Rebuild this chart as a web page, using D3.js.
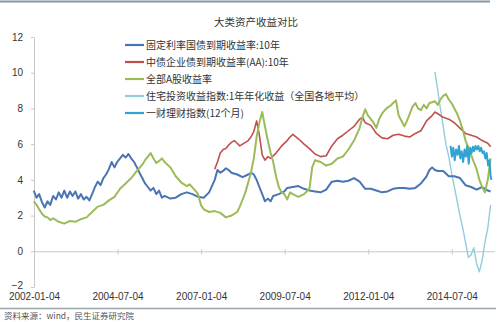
<!DOCTYPE html>
<html>
<head>
<meta charset="utf-8">
<script src="https://cdn.jsdelivr.net/npm/d3@7"></script>
<style>
  body { margin: 0; background: #fff; }
  text { font-family: "Liberation Sans", "Noto Sans CJK SC", sans-serif; }
  .cjk { font-family: "Noto Sans CJK SC", sans-serif; }
</style>
</head>
<body>
<div id="chart"></div>
<script>
// series data
const govBond = [
  ["2002-01", 3.4], ["2002-02", 3.0], ["2002-03", 3.2], ["2002-04", 2.75], ["2002-05", 2.45],
  ["2002-06", 2.8], ["2002-07", 2.6], ["2002-08", 3.1], ["2002-09", 2.9], ["2002-10", 3.3],
  ["2002-11", 3.0], ["2002-12", 3.4], ["2003-01", 3.0], ["2003-02", 3.35], ["2003-03", 3.1],
  ["2003-04", 3.35], ["2003-05", 2.95], ["2003-06", 3.2], ["2003-07", 2.9], ["2003-08", 3.05],
  ["2003-09", 2.85], ["2003-10", 3.2], ["2003-11", 3.6], ["2003-12", 3.9], ["2004-01", 3.7],
  ["2004-02", 4.1], ["2004-03", 4.3], ["2004-04", 4.6], ["2004-05", 5.0], ["2004-06", 4.7],
  ["2004-07", 5.0], ["2004-08", 5.2], ["2004-09", 5.4], ["2004-10", 5.25], ["2004-11", 5.45],
  ["2004-12", 5.2], ["2005-01", 5.0], ["2005-02", 4.7], ["2005-03", 4.4], ["2005-04", 4.1],
  ["2005-05", 3.8], ["2005-06", 3.6], ["2005-07", 3.4], ["2005-08", 3.55], ["2005-09", 3.2],
  ["2005-10", 3.4], ["2005-11", 3.0], ["2005-12", 3.1], ["2006-02", 2.95], ["2006-04", 3.0],
  ["2006-06", 3.2], ["2006-08", 3.3], ["2006-10", 3.2], ["2006-12", 3.05], ["2007-02", 3.0],
  ["2007-04", 3.3], ["2007-06", 4.0], ["2007-07", 4.55], ["2007-08", 4.4], ["2007-09", 4.5],
  ["2007-10", 4.65], ["2007-11", 4.55], ["2007-12", 4.4], ["2008-02", 4.3], ["2008-04", 4.15],
  ["2008-06", 4.3], ["2008-07", 4.4], ["2008-08", 4.3], ["2008-09", 4.0], ["2008-10", 3.6],
  ["2008-11", 3.2], ["2008-12", 2.8], ["2009-01", 2.95], ["2009-02", 2.8], ["2009-03", 3.1],
  ["2009-05", 3.2], ["2009-07", 3.35], ["2009-08", 3.55], ["2009-10", 3.6], ["2009-12", 3.65],
  ["2010-02", 3.5], ["2010-04", 3.4], ["2010-06", 3.35], ["2010-08", 3.3], ["2010-10", 3.45],
  ["2010-12", 3.9], ["2011-02", 3.95], ["2011-04", 3.9], ["2011-06", 3.95], ["2011-08", 4.1],
  ["2011-10", 3.9], ["2011-12", 3.5], ["2012-02", 3.5], ["2012-04", 3.4], ["2012-06", 3.3],
  ["2012-08", 3.35], ["2012-10", 3.5], ["2012-12", 3.55], ["2013-02", 3.55], ["2013-04", 3.5],
  ["2013-06", 3.55], ["2013-08", 3.8], ["2013-09", 4.0], ["2013-10", 4.2], ["2013-11", 4.55],
  ["2013-12", 4.7], ["2014-01", 4.55], ["2014-02", 4.5], ["2014-04", 4.5], ["2014-06", 4.2],
  ["2014-08", 4.2], ["2014-10", 4.1], ["2014-12", 3.7], ["2015-02", 3.6], ["2015-04", 3.45],
  ["2015-06", 3.6], ["2015-08", 3.4], ["2015-09", 3.35]
];

const corpBond = [
  ["2007-06", 4.6], ["2007-07", 5.0], ["2007-08", 5.5], ["2007-09", 5.7], ["2007-10", 5.75],
  ["2007-11", 5.95], ["2007-12", 6.1], ["2008-01", 6.2], ["2008-02", 6.05], ["2008-03", 5.9],
  ["2008-04", 6.0], ["2008-05", 6.1], ["2008-06", 6.2], ["2008-07", 6.4], ["2008-08", 6.7],
  ["2008-09", 7.3], ["2008-10", 6.5], ["2008-11", 5.4], ["2008-12", 5.1], ["2009-01", 5.3],
  ["2009-02", 5.2], ["2009-04", 5.5], ["2009-06", 5.9], ["2009-08", 6.2], ["2009-09", 6.4],
  ["2009-10", 6.55], ["2009-12", 6.3], ["2010-02", 6.0], ["2010-04", 5.75], ["2010-06", 5.45],
  ["2010-08", 5.3], ["2010-10", 5.35], ["2010-12", 5.9], ["2011-02", 6.3], ["2011-04", 6.5],
  ["2011-06", 6.75], ["2011-08", 7.0], ["2011-10", 7.4], ["2011-11", 7.5], ["2011-12", 7.2],
  ["2012-02", 7.05], ["2012-04", 6.6], ["2012-06", 6.35], ["2012-08", 6.3], ["2012-10", 6.5],
  ["2012-12", 6.55], ["2013-02", 6.45], ["2013-04", 6.4], ["2013-06", 6.6], ["2013-08", 6.75],
  ["2013-10", 7.3], ["2013-12", 7.6], ["2014-01", 7.8], ["2014-02", 7.7], ["2014-04", 7.5],
  ["2014-06", 7.4], ["2014-08", 7.2], ["2014-10", 6.9], ["2014-12", 6.6], ["2015-02", 6.5],
  ["2015-04", 6.4], ["2015-06", 6.2], ["2015-08", 6.05], ["2015-09", 5.85]
];

const aShare = [
  ["2002-01", 2.8], ["2002-02", 2.6], ["2002-03", 2.35], ["2002-04", 2.1], ["2002-05", 1.95],
  ["2002-06", 1.9], ["2002-07", 1.75], ["2002-08", 1.85], ["2002-10", 1.65], ["2002-12", 1.55],
  ["2003-02", 1.7], ["2003-04", 1.65], ["2003-06", 1.8], ["2003-08", 1.9], ["2003-10", 2.2],
  ["2003-12", 2.5], ["2004-02", 2.6], ["2004-04", 2.85], ["2004-06", 3.05], ["2004-08", 3.5],
  ["2004-10", 3.8], ["2004-12", 4.1], ["2005-02", 4.5], ["2005-04", 4.85], ["2005-05", 5.1],
  ["2005-06", 5.3], ["2005-07", 5.5], ["2005-08", 5.2], ["2005-09", 4.95], ["2005-10", 5.05],
  ["2005-11", 5.2], ["2005-12", 5.0], ["2006-02", 4.7], ["2006-04", 4.2], ["2006-06", 3.85],
  ["2006-08", 3.65], ["2006-09", 3.75], ["2006-11", 3.4], ["2006-12", 3.2], ["2007-01", 2.6],
  ["2007-02", 2.35], ["2007-04", 2.2], ["2007-06", 2.25], ["2007-08", 2.15], ["2007-10", 1.9],
  ["2007-12", 2.0], ["2008-02", 2.2], ["2008-03", 2.5], ["2008-04", 2.9], ["2008-05", 3.3],
  ["2008-06", 3.85], ["2008-07", 4.4], ["2008-08", 5.2], ["2008-09", 6.4], ["2008-10", 7.2],
  ["2008-11", 7.8], ["2008-12", 7.0], ["2009-01", 6.2], ["2009-02", 5.5], ["2009-03", 5.0],
  ["2009-04", 4.2], ["2009-05", 3.6], ["2009-06", 3.3], ["2009-07", 3.2], ["2009-08", 2.9],
  ["2009-09", 3.3], ["2009-10", 3.2], ["2009-12", 3.05], ["2010-02", 3.2], ["2010-04", 3.5],
  ["2010-05", 4.7], ["2010-06", 5.1], ["2010-08", 5.0], ["2010-10", 4.8], ["2010-12", 4.9],
  ["2011-02", 5.2], ["2011-04", 5.3], ["2011-06", 5.7], ["2011-08", 6.2], ["2011-10", 6.9],
  ["2011-11", 7.5], ["2011-12", 7.95], ["2012-01", 7.6], ["2012-02", 7.4], ["2012-03", 7.2],
  ["2012-04", 6.9], ["2012-05", 7.4], ["2012-06", 7.7], ["2012-07", 7.9], ["2012-08", 8.05],
  ["2012-09", 8.15], ["2012-10", 8.3], ["2012-11", 8.45], ["2012-12", 7.6], ["2013-01", 7.3],
  ["2013-02", 7.0], ["2013-03", 7.3], ["2013-04", 7.7], ["2013-05", 8.1], ["2013-06", 8.3],
  ["2013-07", 8.0], ["2013-08", 7.9], ["2013-09", 8.2], ["2013-10", 8.0], ["2013-11", 8.3],
  ["2013-12", 8.35], ["2014-01", 8.4], ["2014-02", 8.2], ["2014-03", 8.5], ["2014-04", 8.7],
  ["2014-05", 8.8], ["2014-06", 8.5], ["2014-07", 8.3], ["2014-08", 8.0], ["2014-09", 7.7],
  ["2014-10", 7.3], ["2014-11", 6.8], ["2014-12", 6.2], ["2015-01", 5.8], ["2015-02", 5.4],
  ["2015-03", 5.0], ["2015-04", 4.6], ["2015-05", 4.0], ["2015-06", 3.6], ["2015-07", 3.3],
  ["2015-08", 4.0], ["2015-09", 5.2]
];

const housing = [
  ["2014-01", 10.05], ["2014-02", 9.0], ["2014-03", 8.0], ["2014-04", 7.0], ["2014-05", 6.0],
  ["2014-06", 5.3], ["2014-07", 4.4], ["2014-08", 3.6], ["2014-09", 2.8], ["2014-10", 2.0],
  ["2014-11", 1.3], ["2014-12", 0.5], ["2015-01", -0.35], ["2015-02", -0.2], ["2015-03", 0.2],
  ["2015-04", -0.7], ["2015-05", -1.15], ["2015-06", -0.5], ["2015-07", 0.5], ["2015-08", 1.3],
  ["2015-09", 2.6]
];

const wealth = [
  ["2014-06-20", 5.9], ["2014-07-05", 5.3], ["2014-07-20", 5.8], ["2014-08-05", 5.1],
  ["2014-08-20", 5.7], ["2014-09-05", 5.4], ["2014-09-20", 5.9], ["2014-10-05", 5.2],
  ["2014-10-20", 5.6], ["2014-11-05", 5.0], ["2014-11-20", 5.7], ["2014-12-05", 5.3],
  ["2014-12-20", 5.9], ["2015-01-05", 4.9], ["2015-01-20", 5.8], ["2015-02-05", 5.5],
  ["2015-02-20", 5.85], ["2015-03-05", 5.6], ["2015-03-20", 5.9], ["2015-04-05", 5.7],
  ["2015-04-20", 5.9], ["2015-05-05", 5.6], ["2015-05-20", 5.8], ["2015-06-05", 5.5],
  ["2015-06-20", 5.6], ["2015-07-05", 5.2], ["2015-07-20", 5.5], ["2015-08-05", 4.8],
  ["2015-08-20", 5.1], ["2015-09-01", 4.2], ["2015-09-10", 4.0]
];

const seriesNames = [
  "固定利率国债到期收益率:10年",
  "中债企业债到期收益率(AA):10年",
  "全部A股收益率",
  "住宅投资收益指数:1年年化收益（全国各地平均）",
  "一财理财指数(12个月)"
];
const seriesColors = ["#4a74b4", "#c0504d", "#9bbb59", "#92cddc", "#2fa4d4"];
const xTickLabels = ["2002-01-04", "2004-07-04", "2007-01-04", "2009-07-04", "2012-01-04", "2014-07-04"];
const yTicks = [-2, 0, 2, 4, 6, 8, 10, 12];

const W = 500, H = 322;
const svg = d3.select("#chart").append("svg").attr("width", W).attr("height", H);

const parse = s => s.length > 7 ? d3.timeParse("%Y-%m-%d")(s) : d3.timeParse("%Y-%m")(s);
const parseDay = d3.timeParse("%Y-%m-%d");

const x = d3.scaleTime()
  .domain([parseDay("2002-01-04"), parseDay("2015-10-08")])
  .range([34, 494]);
const y = d3.scaleLinear().domain([-2, 12]).range([287, 37]);

// frame lines
svg.append("line").attr("x1", 0).attr("x2", 490).attr("y1", 1.5).attr("y2", 1.5)
  .attr("stroke", "#8197aa").attr("stroke-width", 2);
svg.append("line").attr("x1", 0).attr("x2", 496).attr("y1", 308.5).attr("y2", 308.5)
  .attr("stroke", "#9aa5ae").attr("stroke-width", 1.5);

// title
svg.append("text").attr("class", "cjk")
  .attr("x", 256).attr("y", 26)
  .attr("text-anchor", "middle")
  .attr("font-size", 10.5).attr("fill", "#333")
  .text("大类资产收益对比");

// y axis
const yAxis = svg.append("g")
  .attr("transform", "translate(34,0)")
  .call(d3.axisLeft(y).tickValues(yTicks).tickSize(3).tickSizeOuter(0).tickPadding(8));
yAxis.select(".domain").attr("stroke", "#c8c8c8");
yAxis.selectAll(".tick line").attr("stroke", "#c8c8c8");
yAxis.selectAll("text").attr("font-size", 10).attr("fill", "#333");
// the -2 label sits a little higher so it clears the first date label
yAxis.selectAll(".tick").filter(d => d === -2).select("text").attr("dy", "0.1em");

// x axis on the zero line, labels pushed to the bottom
const xAxis = svg.append("g")
  .attr("transform", `translate(0,${y(0)})`)
  .call(d3.axisBottom(x)
    .tickValues(xTickLabels.map(parseDay))
    .tickFormat(d3.timeFormat("%Y-%m-%d"))
    .tickSize(3).tickSizeOuter(0));
xAxis.select(".domain").attr("stroke", "#c8c8c8");
xAxis.selectAll(".tick line").attr("stroke", "#c8c8c8").attr("y1", -2);
xAxis.selectAll("text").attr("y", 42).attr("font-size", 10).attr("fill", "#333");

// lines
const line = d3.line().x(d => x(parse(d[0]))).y(d => y(d[1]));
const allSeries = [govBond, corpBond, aShare, housing, wealth];
const widths = [2, 1.6, 2, 1.4, 2];
const drawOrder = [3, 0, 1, 2, 4];
drawOrder.forEach(i => {
  svg.append("path")
    .datum(allSeries[i])
    .attr("fill", "none")
    .attr("stroke", seriesColors[i])
    .attr("stroke-width", widths[i])
    .attr("stroke-linejoin", "round")
    .attr("d", line);
});

// legend
const legend = svg.append("g").attr("transform", "translate(125,45)");
seriesNames.forEach((name, i) => {
  const g = legend.append("g").attr("transform", `translate(0,${i * 17})`);
  g.append("line").attr("x1", 0).attr("x2", 19).attr("y1", 0).attr("y2", 0)
    .attr("stroke", seriesColors[i]).attr("stroke-width", 2.2);
  g.append("text").attr("class", "cjk")
    .attr("x", 21).attr("y", 0).attr("dy", "0.35em")
    .attr("font-size", 10).attr("fill", "#333")
    .text(name);
});

// source note
svg.append("text").attr("class", "cjk")
  .attr("x", 4).attr("y", 319)
  .attr("font-size", 8.5).attr("fill", "#555")
  .text("资料来源：wind，民生证券研究院");
</script>
</body>
</html>
